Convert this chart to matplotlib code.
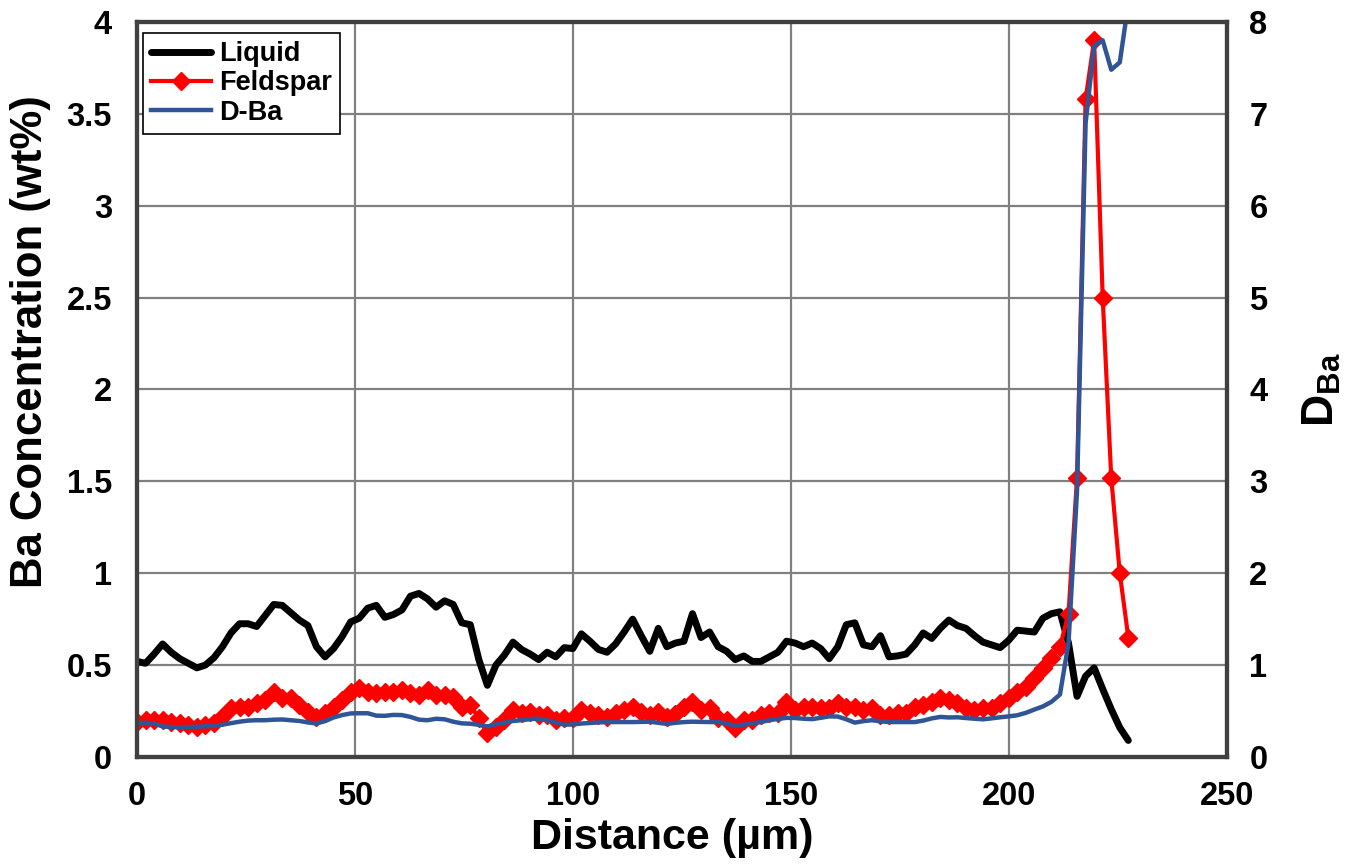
import matplotlib
matplotlib.use("Agg")
import matplotlib.pyplot as plt
from matplotlib.ticker import FuncFormatter, MultipleLocator

plt.rcParams["font.family"] = ["Liberation Sans", "DejaVu Sans"]
plt.rcParams["font.weight"] = "bold"
plt.rcParams["mathtext.fontset"] = "custom"
plt.rcParams["mathtext.bf"] = "Liberation Sans:bold"
plt.rcParams["mathtext.rm"] = "Liberation Sans:bold"

# Distance along the traverse (um), one point every ~1.96 um
distance = [
    0.0, 1.96, 3.92, 5.88, 7.84, 9.8, 11.76, 13.72, 15.68, 17.64,
    19.6, 21.56, 23.52, 25.48, 27.44, 29.4, 31.36, 33.32, 35.28, 37.24,
    39.2, 41.16, 43.12, 45.08, 47.04, 49.0, 50.96, 52.92, 54.88, 56.84,
    58.8, 60.76, 62.72, 64.68, 66.64, 68.6, 70.56, 72.52, 74.48, 76.44,
    78.4, 80.36, 82.32, 84.28, 86.24, 88.2, 90.16, 92.12, 94.08, 96.04,
    98.0, 99.96, 101.92, 103.88, 105.84, 107.8, 109.76, 111.72, 113.68, 115.64,
    117.6, 119.56, 121.52, 123.48, 125.44, 127.4, 129.36, 131.32, 133.28, 135.24,
    137.2, 139.16, 141.12, 143.08, 145.04, 147.0, 148.96, 150.92, 152.88, 154.84,
    156.8, 158.76, 160.72, 162.68, 164.64, 166.6, 168.56, 170.52, 172.48, 174.44,
    176.4, 178.36, 180.32, 182.28, 184.24, 186.2, 188.16, 190.12, 192.08, 194.04,
    196.0, 197.96, 199.92, 201.88, 203.84, 205.8, 207.76, 209.72, 211.68, 213.64,
    215.6, 217.56, 219.52, 221.48, 223.44, 225.4, 227.36,
]

# Ba in liquid (wt%)
liquid = [
    0.52, 0.51, 0.56, 0.615, 0.57, 0.535, 0.51, 0.485, 0.50, 0.54,
    0.60, 0.675, 0.725, 0.725, 0.71, 0.77, 0.83, 0.825, 0.785, 0.745,
    0.715, 0.60, 0.545, 0.59, 0.655, 0.735, 0.755, 0.81, 0.825, 0.76,
    0.775, 0.80, 0.875, 0.89, 0.86, 0.815, 0.85, 0.83, 0.73, 0.72,
    0.53, 0.39, 0.50, 0.555, 0.625, 0.585, 0.56, 0.53, 0.57, 0.545,
    0.595, 0.59, 0.67, 0.63, 0.585, 0.57, 0.615, 0.68, 0.75, 0.66,
    0.575, 0.70, 0.60, 0.62, 0.63, 0.78, 0.65, 0.68, 0.60, 0.575,
    0.53, 0.55, 0.52, 0.52, 0.545, 0.57, 0.63, 0.62, 0.60, 0.62,
    0.59, 0.535, 0.60, 0.72, 0.73, 0.61, 0.60, 0.66, 0.545, 0.55,
    0.56, 0.61, 0.675, 0.645, 0.70, 0.745, 0.715, 0.70, 0.66, 0.625,
    0.61, 0.595, 0.635, 0.69, 0.685, 0.68, 0.755, 0.78, 0.79, 0.62,
    0.33, 0.44, 0.485, 0.37, 0.26, 0.16, 0.09,
]

# Ba in feldspar (wt%)
feldspar = [
    0.19, 0.20, 0.20, 0.20, 0.19, 0.183, 0.174, 0.165, 0.174, 0.183,
    0.22, 0.265, 0.274, 0.274, 0.292, 0.31, 0.355, 0.32, 0.32, 0.283,
    0.247, 0.22, 0.238, 0.274, 0.31, 0.355, 0.374, 0.355, 0.347, 0.355,
    0.355, 0.365, 0.347, 0.337, 0.365, 0.337, 0.335, 0.328, 0.274, 0.283,
    0.21, 0.129, 0.165, 0.20, 0.256, 0.238, 0.247, 0.229, 0.229, 0.20,
    0.21, 0.21, 0.256, 0.238, 0.229, 0.22, 0.238, 0.256, 0.274, 0.247,
    0.229, 0.247, 0.22, 0.235, 0.274, 0.30, 0.256, 0.265, 0.21, 0.20,
    0.156, 0.20, 0.20, 0.229, 0.238, 0.238, 0.30, 0.256, 0.274, 0.274,
    0.265, 0.265, 0.292, 0.274, 0.274, 0.256, 0.265, 0.229, 0.229, 0.238,
    0.238, 0.274, 0.283, 0.30, 0.32, 0.31, 0.292, 0.265, 0.256, 0.265,
    0.265, 0.292, 0.32, 0.355, 0.383, 0.428, 0.483, 0.537, 0.60, 0.78,
    1.52, 3.58, 3.90, 2.50, 1.52, 1.00, 0.65,
]

# Partition coefficient D-Ba (right axis)
d_ba = [
    0.37, 0.374, 0.364, 0.332, 0.326, 0.324, 0.326, 0.33, 0.334, 0.338,
    0.352, 0.368, 0.384, 0.396, 0.40, 0.40, 0.406, 0.408, 0.40, 0.392,
    0.376, 0.364, 0.39, 0.43, 0.456, 0.474, 0.476, 0.476, 0.45, 0.448,
    0.458, 0.456, 0.436, 0.406, 0.40, 0.416, 0.41, 0.384, 0.366, 0.362,
    0.35, 0.332, 0.356, 0.374, 0.392, 0.40, 0.412, 0.418, 0.40, 0.376,
    0.352, 0.354, 0.364, 0.37, 0.376, 0.38, 0.38, 0.38, 0.38, 0.382,
    0.384, 0.372, 0.36, 0.372, 0.38, 0.384, 0.382, 0.38, 0.38, 0.366,
    0.34, 0.352, 0.366, 0.38, 0.40, 0.414, 0.426, 0.424, 0.416, 0.412,
    0.426, 0.442, 0.44, 0.41, 0.374, 0.39, 0.40, 0.388, 0.38, 0.38,
    0.38, 0.38, 0.396, 0.42, 0.436, 0.43, 0.432, 0.424, 0.416, 0.41,
    0.42, 0.432, 0.442, 0.454, 0.48, 0.516, 0.55, 0.60, 0.68, 1.24,
    2.90, 6.90, 7.74, 7.80, 7.48, 7.56, 8.2,
]

BLUE = "#2F5597"
SPINE = "#404040"
GRID = "#808080"

fig = plt.figure(figsize=(13.59, 8.67), dpi=100)
ax = fig.add_axes([0.1008, 0.1269, 0.8021, 0.8478])
ax2 = ax.twinx()

l1, = ax.plot(distance, liquid, color="black", lw=5, label="Liquid", zorder=3,
              solid_joinstyle="round", solid_capstyle="round")
l2, = ax.plot(distance, feldspar, color="red", lw=3, marker="D", ms=9,
              mec="red", mfc="red", label="Feldspar", zorder=4,
              solid_joinstyle="round")
l3, = ax2.plot(distance, d_ba, color=BLUE, lw=3.2, label="D-Ba",
               solid_joinstyle="round")

ax.set_xlim(0, 250)
ax.set_ylim(0, 4)
ax2.set_ylim(0, 8)
ax.xaxis.set_major_locator(MultipleLocator(50))
ax.yaxis.set_major_locator(MultipleLocator(0.5))
ax2.yaxis.set_major_locator(MultipleLocator(1))
fmt = FuncFormatter(lambda v, pos: f"{v:g}")
ax.yaxis.set_major_formatter(fmt)
ax2.yaxis.set_major_formatter(fmt)

ax.grid(True, color=GRID, lw=1.6)
for a in (ax, ax2):
    for sp in a.spines.values():
        sp.set_color(SPINE)
        sp.set_linewidth(3)
ax.tick_params(axis="x", length=0, pad=17, labelsize=23.5)
ax.tick_params(axis="y", length=0, pad=18, labelsize=23.5)
ax2.tick_params(axis="y", length=0, pad=16, labelsize=23.5)
for lab in ax.get_xticklabels() + ax.get_yticklabels() + ax2.get_yticklabels():
    lab.set_fontweight("bold")

ax.set_xlabel("Distance (µm)", fontsize=31, fontweight="bold")
ax.set_ylabel("Ba Concentration (wt%)", fontsize=31.5, fontweight="bold")
ax2.set_ylabel(r"$\mathbf{D}_{\mathbf{Ba}}$", fontsize=32)
ax.xaxis.set_label_coords(0.491, -0.083)
ax.yaxis.set_label_coords(-0.079, 0.565)
ax2.yaxis.set_label_coords(1.068, 0.5)

leg = ax2.legend(handles=[l1, l2, l3], loc="upper left",
                 bbox_to_anchor=(0.0055, 0.985), borderaxespad=0,
                 fontsize=19.5, numpoints=1, handlelength=2.2,
                 labelspacing=0.12, borderpad=0.3, handletextpad=0.3,
                 fancybox=False, framealpha=1, edgecolor="black")
leg.get_frame().set_linewidth(1.2)
for t in leg.get_texts():
    t.set_fontweight("bold")

fig.savefig("out.png", dpi=100)
